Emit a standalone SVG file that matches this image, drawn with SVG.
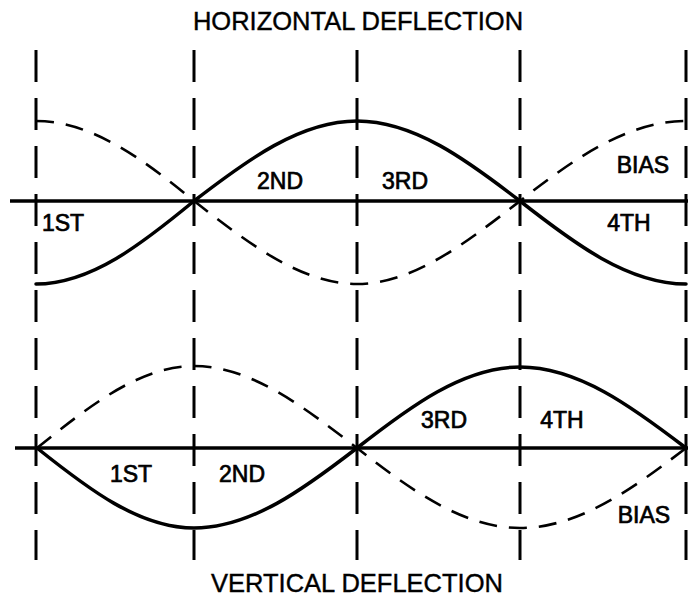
<svg xmlns="http://www.w3.org/2000/svg" width="693" height="598" viewBox="0 0 693 598">
<style>
.grid{stroke:#000;stroke-width:3;stroke-dasharray:32 16;fill:none}
.axis{stroke:#000;stroke-width:3.5;fill:none}
.solid{stroke:#000;stroke-width:3.5;fill:none;stroke-linecap:round}
.dash{stroke:#000;stroke-width:2.6;fill:none;stroke-dasharray:18 12}
.lbl{font-family:"Liberation Sans",Arial,sans-serif;font-size:23px;fill:#000;stroke:#000;stroke-width:0.7;text-anchor:middle}
.ttl{font-family:"Liberation Sans",Arial,sans-serif;font-size:25.5px;fill:#000;stroke:#000;stroke-width:0.4;text-anchor:middle}
</style>
<rect width="693" height="598" fill="#fff"/>
<g id="gridlines">
<line class="grid" x1="36" y1="50" x2="36" y2="560"/>
<line class="grid" x1="194" y1="50" x2="194" y2="560"/>
<line class="grid" x1="357" y1="50" x2="357" y2="560"/>
<line class="grid" x1="520" y1="50" x2="520" y2="560"/>
<line class="grid" x1="686" y1="50" x2="686" y2="560"/>
</g>
<g id="horizontal">
<line class="axis" x1="10" y1="201" x2="688" y2="201"/>
<path class="solid" d="M36,284 C91.1,284 142.5,243.5 194,201 C247.1,160 300.1,121 357,121 C413.9,121 466.9,160 520,201 C574.1,243.5 628.1,284 686,284"/>
<path class="dash" d="M36,121 C91.1,121 142.5,158.5 194,201 C247.1,242 300.1,284 357,284 C413.9,284 466.9,242 520,201 C574.1,158.5 628.1,121 686,121"/>
<text class="ttl" x="358" y="30">HORIZONTAL DEFLECTION</text>
<text class="lbl" x="63" y="231">1ST</text>
<text class="lbl" x="280" y="189">2ND</text>
<text class="lbl" x="405" y="189">3RD</text>
<text class="lbl" x="629" y="231">4TH</text>
<text class="lbl" x="643" y="173">BIAS</text>
</g>
<g id="vertical">
<line class="axis" x1="15" y1="448" x2="688" y2="448"/>
<path class="solid" d="M37,448 C88.2,489 139.2,528 194,528 C250.9,528 303.9,489 357,448 C410.1,406.5 463.1,367 520,367 C577.9,367 631.9,406.5 686,448"/>
<path class="dash" d="M37,448 C88.2,407 139.2,366 194,366 C250.9,366 303.9,407 357,448 C410.1,489.5 463.1,528 520,528 C577.9,528 631.9,489.5 686,448"/>
<text class="ttl" x="357" y="592">VERTICAL DEFLECTION</text>
<text class="lbl" x="131" y="482">1ST</text>
<text class="lbl" x="242" y="482">2ND</text>
<text class="lbl" x="444" y="428">3RD</text>
<text class="lbl" x="562" y="428">4TH</text>
<text class="lbl" x="644" y="523">BIAS</text>
</g>
</svg>
